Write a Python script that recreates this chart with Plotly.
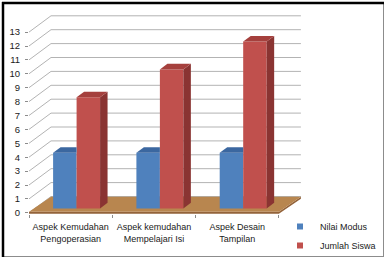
import plotly.graph_objects as go

categories = ["Aspek Kemudahan<br>Pengoperasian", "Aspek kemudahan<br>Mempelajari Isi", "Aspek Desain<br>Tampilan"]
nilai_modus = [4, 4, 4]
jumlah_siswa = [8, 10, 12]
y_ticks = list(range(0, 14))
series_names = ["Nilai Modus", "Jumlah Siswa"]

# style / geometry (in axis units)
W_PX, H_PX = 386, 259
L, R, T, B = 29, 81, 5, 45
K = 13.9              # px per value unit
Y0PX = 212.8          # pixel row of value 0 at front
CATPX = 83.3          # px per category
plot_w = W_PX - L - R
plot_h = H_PX - T - B
yr0 = (Y0PX - (H_PX - B)) / K
yr1 = (Y0PX - T) / K
xr1 = plot_w / CATPX

DX = 22 / CATPX       # wall depth (x units)
DY = 16.3 / K         # wall depth (y units)
F0 = 0.27             # bar depth position
BW = 0.282            # bar width
BDX, BDY = 0.34 * DX, 0.34 * DY
base = F0 * DY
shift = F0 * DX

BLUE, BLUE_TOP = "#4F81BD", "#3B67A0"
RED, RED_TOP, RED_SIDE = "#C0504D", "#A5403D", "#8A3432"
GRID = "#B3B3B3"
FONT = "Liberation Sans, Arial, sans-serif"

ncat = len(categories)
xc = [i + 0.5 for i in range(ncat)]

fig = go.Figure()

shapes = []
# gridlines: side wall diagonal + back wall horizontal
for v in y_ticks:
    shapes.append(dict(type="path", xref="x", yref="y", layer="below",
                       path=f"M 0,{v} L {DX},{v + DY} L {ncat + DX},{v + DY}",
                       line=dict(color=GRID, width=1)))
# floor
fy = 0.08
fdy = 15 / K
shapes.append(dict(type="path", xref="x", yref="y", layer="below",
                   path=f"M 0,{fy} L {ncat},{fy} L {ncat + DX},{fy + fdy} L {ncat + DX},{fy + fdy - 0.15} L {ncat},{fy - 0.15} L 0,{fy - 0.15} Z",
                   fillcolor="#93633A", line=dict(width=0)))
shapes.append(dict(type="path", xref="x", yref="y", layer="below",
                   path=f"M 0,{fy} L {ncat},{fy} L {ncat + DX},{fy + fdy} L {DX},{fy + fdy} Z",
                   fillcolor="#B8864F", line=dict(width=0)))

# front faces as real bars
fig.add_trace(go.Bar(x=xc, y=nilai_modus, base=base, width=BW, offset=shift - BW,
                     marker=dict(color=BLUE, line=dict(width=0)), showlegend=False, name=series_names[0]))
fig.add_trace(go.Bar(x=xc, y=jumlah_siswa, base=base, width=BW, offset=shift,
                     marker=dict(color=RED, line=dict(width=0)), showlegend=False, name=series_names[1]))

# 3D faces
for i in range(ncat):
    c = xc[i] + shift
    v = nilai_modus[i] + base
    fig.add_trace(go.Scatter(x=[c - BW, c - BW + BDX, c, c, c - BW], y=[v, v + BDY, v + BDY, v, v],
                             fill="toself", fillcolor=BLUE_TOP, mode="lines", line=dict(width=0),
                             showlegend=False, hoverinfo="skip"))
    v = jumlah_siswa[i] + base
    fig.add_trace(go.Scatter(x=[c + BW, c + BW + BDX, c + BW + BDX, c + BW, c + BW],
                             y=[base, base + BDY, v + BDY, v, base],
                             fill="toself", fillcolor=RED_SIDE, mode="lines", line=dict(width=0),
                             showlegend=False, hoverinfo="skip"))
    fig.add_trace(go.Scatter(x=[c, c + BDX, c + BW + BDX, c + BW, c], y=[v, v + BDY, v + BDY, v, v],
                             fill="toself", fillcolor=RED_TOP, mode="lines", line=dict(width=0),
                             showlegend=False, hoverinfo="skip"))

# legend entries
for name, col in zip(series_names, [BLUE, RED]):
    fig.add_trace(go.Scatter(x=[None], y=[None], mode="markers", name=name, legendgroup=name,
                             marker=dict(symbol="square", size=6, color=col)))

# frame
def px(x):
    return (x - L) / plot_w
def py(y):
    return (H_PX - B - y) / plot_h
shapes += [
    dict(type="line", xref="paper", yref="paper", x0=px(383.5), x1=px(383.5), y0=py(2), y1=py(256.5),
         line=dict(color="#8C8C8C", width=1)),
    dict(type="line", xref="paper", yref="paper", x0=px(2), x1=px(384), y0=py(256.5), y1=py(256.5),
         line=dict(color="#8C8C8C", width=1)),
    dict(type="line", xref="paper", yref="paper", x0=px(3), x1=px(3), y0=py(2), y1=py(257),
         line=dict(color="#000000", width=2.5)),
    dict(type="line", xref="paper", yref="paper", x0=px(2), x1=px(384), y0=py(3), y1=py(3),
         line=dict(color="#000000", width=2.5)),
]

fig.update_layout(
    width=W_PX, height=H_PX,
    margin=dict(l=L, r=R, t=T, b=B, pad=0, autoexpand=False),
    paper_bgcolor="white", plot_bgcolor="white",
    barmode="overlay",
    shapes=shapes,
    font=dict(family=FONT, size=9, color="#1a1a1a"),
    showlegend=True,
    legend=dict(x=px(280), y=py(212), xanchor="left", yanchor="top",
                font=dict(family=FONT, size=9, color="#1a1a1a"),
                bgcolor="rgba(0,0,0,0)", borderwidth=0, traceorder="grouped", tracegroupgap=0,
                itemsizing="trace"),
    xaxis=dict(range=[0, xr1], showgrid=False, zeroline=False, showline=False,
               tickmode="array", tickvals=xc, ticktext=categories, ticks="outside",
               ticklen=4, tickcolor="rgba(0,0,0,0)",
               tickfont=dict(family=FONT, size=9, color="#1a1a1a"),
               minor=dict(tickmode="array", tickvals=list(range(ncat + 1)), ticks="outside",
                          ticklen=3, tickcolor="#8C8C8C", showgrid=False)),
    yaxis=dict(range=[yr0, yr1], showgrid=False, zeroline=False, showline=False,
               tickmode="array", tickvals=y_ticks, ticks="outside", ticklen=3,
               tickcolor="#8C8C8C", ticklabelstandoff=3,
               tickfont=dict(family=FONT, size=9.5, color="#1a1a1a")),
)

fig.write_html("out.html")
